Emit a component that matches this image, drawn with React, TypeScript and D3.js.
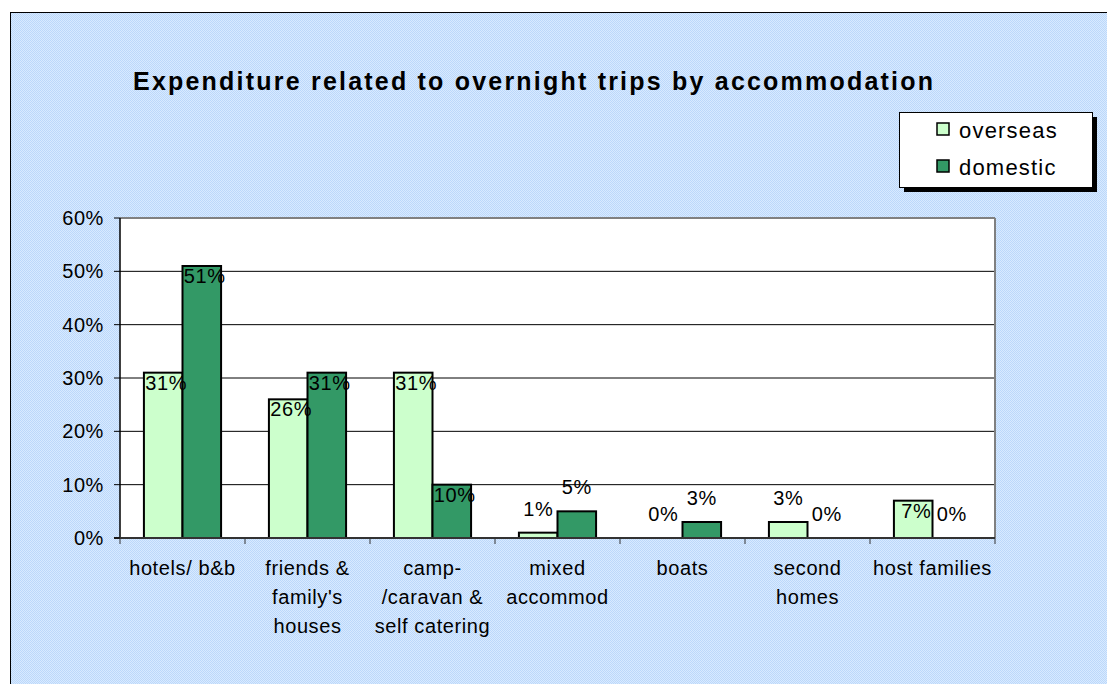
import React from 'react';
import * as d3 from 'd3';

const categories = [
  'hotels/ b&b',
  "friends & family's houses",
  'camp- /caravan & self catering',
  'mixed accommod',
  'boats',
  'second homes',
  'host families',
];
const categoryLines = [
  ['hotels/ b&b'],
  ['friends &', "family's", 'houses'],
  ['camp-', '/caravan &', 'self catering'],
  ['mixed', 'accommod'],
  ['boats'],
  ['second', 'homes'],
  ['host families'],
];
const seriesNames = ['overseas', 'domestic'];
const overseas = [31, 26, 31, 1, 0, 3, 7];
const domestic = [51, 31, 10, 5, 3, 0, 0];
const yTicks = [0, 10, 20, 30, 40, 50, 60];
const colors = ['#ccffcc', '#339966'];

const font = 'Arial, "Liberation Sans", sans-serif';

const App = () => {
  const left = 120;
  const right = 995;
  const top = 218;
  const bottom = 538;

  const x = d3.scaleBand().domain(categories).range([left, right]).padding(0);
  const inner = d3
    .scaleBand()
    .domain(seriesNames)
    .range([0, x.bandwidth()])
    .paddingOuter(0.62)
    .paddingInner(0);
  const y = d3.scaleLinear().domain([0, 60]).range([bottom, top]);

  const series = [overseas, domestic];

  return (
    <div style={{ position: 'absolute', left: 0, top: 0 }}>
      <svg width={1107} height={684} style={{ display: 'block' }}>
        <defs>
          <pattern id="dots" width={2} height={2} patternUnits="userSpaceOnUse">
            <rect width={2} height={2} fill="#d8eaff" />
            <rect width={1} height={1} fill="#bcd8fa" />
            <rect x={1} y={1} width={1} height={1} fill="#bcd8fa" />
          </pattern>
        </defs>
        <rect x={10.5} y={12.5} width={1110} height={690} fill="url(#dots)" stroke="#000" strokeWidth={1} />

        <text
          x={133}
          y={90}
          fontFamily={font}
          fontWeight="bold"
          fontSize={25}
          textLength={800}
          lengthAdjust="spacing"
        >
          Expenditure related to overnight trips by accommodation
        </text>

        {/* plot area */}
        <rect x={left} y={top} width={right - left} height={bottom - top} fill="#fff" />
        {yTicks
          .filter((t) => t > 0 && t < 60)
          .map((t) => (
            <line key={t} x1={left} x2={right} y1={y(t)} y2={y(t)} stroke="#000" strokeWidth={1} />
          ))}
        <line x1={left} x2={right} y1={y(60)} y2={y(60)} stroke="#808080" strokeWidth={2} />
        <line x1={right} x2={right} y1={top} y2={bottom} stroke="#808080" strokeWidth={2} />

        {/* bars */}
        {series.map((vals, si) =>
          vals.map((v, i) => (
            <rect
              key={`${si}-${i}`}
              x={(x(categories[i]) as number) + (inner(seriesNames[si]) as number)}
              y={y(v)}
              width={inner.bandwidth()}
              height={bottom - y(v)}
              fill={colors[si]}
              stroke="#000"
              strokeWidth={2}
            />
          ))
        )}

        {/* axes */}
        <line x1={left} x2={left} y1={top} y2={bottom + 1} stroke="#000" strokeWidth={1.5} />
        <line x1={left - 6} x2={right} y1={bottom} y2={bottom} stroke="#333" strokeWidth={2} />
        {yTicks.map((t) => (
          <g key={t}>
            <line x1={left - 6} x2={left} y1={y(t)} y2={y(t)} stroke="#000" strokeWidth={1} />
            <text x={104} y={y(t) + 7} textAnchor="end" fontFamily={font} fontSize={20} letterSpacing={0.6}>
              {t}%
            </text>
          </g>
        ))}
        {categories.map((c) => (
          <line
            key={c}
            x1={x(c) as number}
            x2={x(c) as number}
            y1={bottom}
            y2={bottom + 6}
            stroke="#333"
            strokeWidth={1}
          />
        ))}
        <line x1={right} x2={right} y1={bottom} y2={bottom + 6} stroke="#333" strokeWidth={1} />

        {/* data labels */}
        {series.map((vals, si) =>
          vals.map((v, i) => {
            const cx = (x(categories[i]) as number) + (inner(seriesNames[si]) as number) + inner.bandwidth() / 2;
            const ly = v >= 7 ? y(v) + 17 : y(v) - 17;
            return (
              <text
                key={`l-${si}-${i}`}
                x={cx + (v >= 7 ? 3 : 0)}
                y={ly}
                textAnchor="middle"
                fontFamily={font}
                fontSize={20}
                letterSpacing={0.6}
              >
                {v}%
              </text>
            );
          })
        )}

        {/* category labels */}
        {categories.map((c, i) => (
          <text
            key={`c-${c}`}
            x={(x(c) as number) + x.bandwidth() / 2}
            y={575}
            textAnchor="middle"
            fontFamily={font}
            fontSize={20}
            letterSpacing={0.6}
          >
            {categoryLines[i].map((ln, j) => (
              <tspan key={j} x={(x(c) as number) + x.bandwidth() / 2} dy={j === 0 ? 0 : 29}>
                {ln}
              </tspan>
            ))}
          </text>
        ))}

        {/* legend */}
        <rect x={904} y={117} width={193} height={75} fill="#000" />
        <rect x={899.5} y={112.5} width={193} height={75} fill="#fff" stroke="#000" strokeWidth={1} />
        {seriesNames.map((s, i) => (
          <g key={s}>
            <rect
              x={937}
              y={123 + i * 37}
              width={12}
              height={12}
              fill={colors[i]}
              stroke="#000"
              strokeWidth={1.5}
            />
            <text x={959} y={138 + i * 37} fontFamily={font} fontSize={22} letterSpacing={1.2}>
              {s}
            </text>
          </g>
        ))}
      </svg>
    </div>
  );
};

export default App;
